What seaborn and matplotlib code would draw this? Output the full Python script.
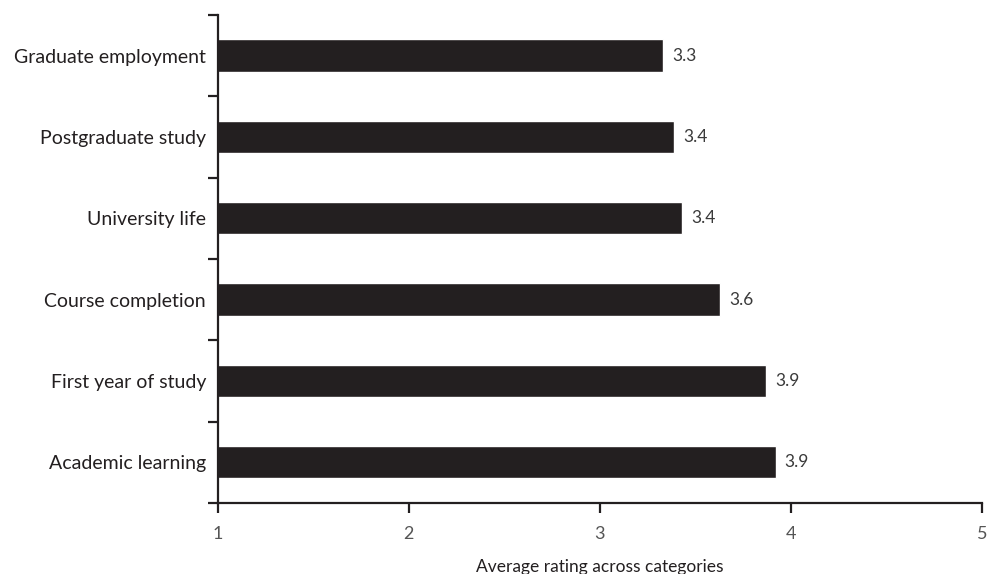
import numpy as np
import pandas as pd
import matplotlib
matplotlib.use('Agg')
import matplotlib.pyplot as plt
import seaborn as sns

categories = ['Graduate employment', 'Postgraduate study', 'University life',
              'Course completion', 'First year of study', 'Academic learning']
ratings = [3.33, 3.39, 3.43, 3.63, 3.87, 3.92]
x_ticks = [1, 2, 3, 4, 5]

sns.set_style('white')
plt.rcParams['font.family'] = ['Lato', 'DejaVu Sans']

df = pd.DataFrame({'category': categories, 'rating': ratings})

fig = plt.figure(figsize=(9.99, 5.74), dpi=100)
ax = fig.add_axes([0.218, 0.124, 0.765, 0.850])

sns.barplot(data=df, x='rating', y='category', orient='h', color='#231f20',
            saturation=1, width=0.4, ax=ax)

# value labels at bar ends
for i, v in enumerate(ratings):
    ax.annotate(f'{v:.1f}', xy=(v, i), xytext=(6.5, 0), textcoords='offset points',
                va='center', ha='left', fontsize=12.5, color='#3a3a3a')

ax.set_xlim(1, 5)
ax.set_ylim(len(categories) - 0.5, -0.5)
ax.set_xticks(x_ticks)
ax.set_xticklabels([str(t) for t in x_ticks], fontsize=13, color='#555555')
ax.set_yticks(np.arange(-0.5, len(categories)), minor=True)
ax.tick_params(axis='y', which='major', left=False, pad=5, labelsize=14,
               labelcolor='#231f20')
ax.tick_params(axis='y', which='minor', left=True, length=7, width=1.6,
               color='#231f20', direction='out')
ax.tick_params(axis='x', which='major', bottom=True, length=7, width=1.6,
               color='#231f20', direction='out', pad=10)

ax.set_xlabel('Average rating across categories', fontsize=12.5, color='#231f20',
              labelpad=12)
ax.set_ylabel('')

for s in ['top', 'right']:
    ax.spines[s].set_visible(False)
for s in ['left', 'bottom']:
    ax.spines[s].set_linewidth(1.6)
    ax.spines[s].set_color('#231f20')

fig.savefig('out.png', dpi=100)
